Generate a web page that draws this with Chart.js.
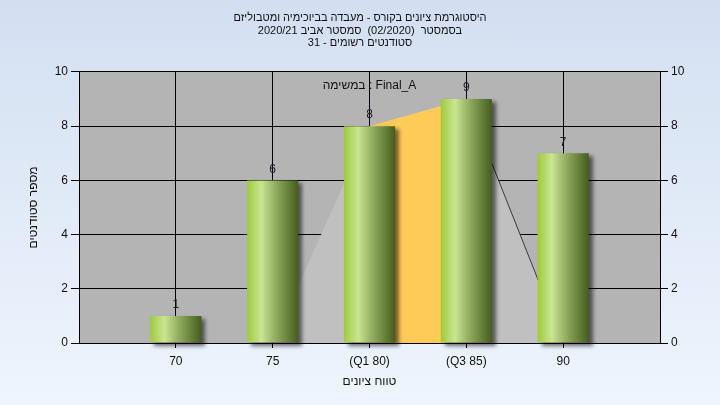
<!DOCTYPE html>
<html>
<head>
<meta charset="utf-8">
<script src="https://cdn.jsdelivr.net/npm/chart.js@4.4.0/dist/chart.umd.min.js"></script>
<style>
    html, body { margin: 0; padding: 0; }
    body {
        width: 720px;
        height: 405px;
        overflow: hidden;
        background: linear-gradient(to bottom, #d3dff1, #eef5fd);
    }
    #wrap { width: 720px; height: 405px; }
</style>
</head>
<body>
<div id="wrap"><canvas id="histChart" dir="rtl"></canvas></div>
<script>
// Grade histogram data
const scoreValues = [70, 75, 80, 85, 90];
const scoreLabels = ['70', '75', '(Q1 80)', '(Q3 85)', '90'];
const studentCounts = [1, 6, 8, 9, 7];
const curveCounts = [null, 0, 8, 9, 0];
const quartileCounts = [null, null, 8, 9, null];

const titleLines = [
    'היסטוגרמת ציונים בקורס - מעבדה בביוכימיה ומטבוליזם',
    'בסמסטר  (02/2020)  סמסטר אביב 2020/21',
    'סטודנטים רשומים - 31'
];
const taskLabel = 'במשימה : Final_A';
const yAxisTitle = 'מספר סטודנטים';
const xAxisTitle = 'טווח ציונים';

Chart.defaults.font.family = "'Liberation Sans', Arial, sans-serif";
Chart.defaults.font.size = 12;
Chart.defaults.color = '#111';

function toPoints(values) {
    return values
        .map((v, i) => ({ x: scoreValues[i], y: v }))
        .filter(p => p.y !== null);
}

function barGradient(context) {
    const chart = context.chart;
    if (!chart.chartArea) return '#a4cc44';
    const xs = chart.scales.x;
    const cx = xs.getPixelForValue(scoreValues[context.dataIndex]);
    const half = (xs.getPixelForValue(scoreValues[1]) - xs.getPixelForValue(scoreValues[0])) * 0.264;
    const g = chart.ctx.createLinearGradient(cx - half, 0, cx + half, 0);
    g.addColorStop(0, '#9fcb3c');
    g.addColorStop(0.28, '#c9e592');
    g.addColorStop(0.55, '#93ad62');
    g.addColorStop(0.8, '#66823a');
    g.addColorStop(1, '#475c1f');
    return g;
}

const plotBackground = {
    id: 'plotBackground',
    beforeDraw(chart) {
        const { ctx, chartArea: a } = chart;
        ctx.save();
        ctx.fillStyle = '#b4b4b4';
        ctx.fillRect(a.left, a.top, a.right - a.left, a.bottom - a.top);
        ctx.restore();
    }
};

const barShadow = {
    id: 'barShadow',
    beforeDatasetDraw(chart, args) {
        if (args.index !== 0) return;
        const ctx = chart.ctx;
        ctx.save();
        ctx.shadowColor = 'rgba(0, 0, 0, 0.55)';
        ctx.shadowBlur = 4;
        ctx.shadowOffsetX = 4;
        ctx.shadowOffsetY = 3;
    },
    afterDatasetDraw(chart, args) {
        if (args.index !== 0) return;
        chart.ctx.restore();
    }
};

const barValues = {
    id: 'barValues',
    afterDatasetsDraw(chart) {
        const ctx = chart.ctx;
        const meta = chart.getDatasetMeta(0);
        ctx.save();
        ctx.direction = 'ltr';
        ctx.font = "12px 'Liberation Sans', Arial, sans-serif";
        ctx.fillStyle = '#1b1b33';
        ctx.textAlign = 'center';
        ctx.textBaseline = 'bottom';
        meta.data.forEach((bar, i) => {
            ctx.fillText(String(studentCounts[i]), bar.x, bar.y - 5);
        });
        ctx.fillStyle = '#111';
        ctx.textBaseline = 'middle';
        const a = chart.chartArea;
        ctx.fillText(taskLabel, (a.left + a.right) / 2, a.top + 14);
        ctx.restore();
    }
};

new Chart(document.getElementById('histChart'), {
    type: 'bar',
    data: {
        datasets: [{
            label: 'Students',
            data: toPoints(studentCounts),
            backgroundColor: barGradient,
            borderWidth: 0,
            barPercentage: 0.66,
            categoryPercentage: 0.8,
            clip: false
        }, {
            type: 'line',
            label: 'IQR',
            data: toPoints(quartileCounts),
            fill: 'origin',
            backgroundColor: '#ffcb57',
            borderWidth: 0,
            pointRadius: 0,
            tension: 0
        }, {
            type: 'line',
            label: 'Curve',
            data: toPoints(curveCounts),
            fill: 'origin',
            backgroundColor: '#c0c0c0',
            borderColor: '#3a3a3a',
            borderWidth: 1,
            pointRadius: 0,
            tension: 0,
            segment: {
                borderColor: ctx => ctx.p1DataIndex === 3 ? '#3a3a3a' : 'rgba(0,0,0,0)'
            }
        }]
    },
    options: {
        responsive: true,
        maintainAspectRatio: false,
        animation: false,
        events: [],
        layout: { padding: 0 },
        plugins: {
            legend: { display: false },
            tooltip: { enabled: false },
            title: {
                display: true,
                text: titleLines,
                color: '#111',
                font: { size: 11, weight: 'normal', lineHeight: 1.12 },
                padding: { top: 12, bottom: 23 }
            }
        },
        scales: {
            x: {
                type: 'linear',
                min: 65,
                max: 95,
                offset: false,
                afterBuildTicks: scale => {
                    scale.ticks = scoreValues.map(v => ({ value: v }));
                },
                afterFit: scale => { scale.height = 62; },
                ticks: {
                    autoSkip: false,
                    maxRotation: 0,
                    padding: 6,
                    color: '#111',
                    callback: value => scoreLabels[scoreValues.indexOf(value)]
                },
                grid: { offset: false, color: '#000', lineWidth: 1, tickLength: 5 },
                border: { color: '#000', width: 1 },
                title: {
                    display: true,
                    text: xAxisTitle,
                    color: '#111',
                    font: { size: 12 },
                    padding: { top: 0, bottom: 16 }
                }
            },
            y: {
                position: 'left',
                min: 0,
                max: 10,
                afterFit: scale => { scale.width = 79; },
                ticks: { stepSize: 2, padding: 3, color: '#111' },
                grid: { color: '#000', lineWidth: 1, tickLength: 8 },
                border: { color: '#000', width: 1 },
                title: {
                    display: true,
                    text: yAxisTitle,
                    color: '#111',
                    font: { size: 12 },
                    padding: { top: 26, bottom: 0 }
                }
            },
            y2: {
                position: 'right',
                min: 0,
                max: 10,
                afterFit: scale => { scale.width = 60; },
                ticks: { stepSize: 2, padding: 3, color: '#111' },
                grid: { drawOnChartArea: false, color: '#000', lineWidth: 1, tickLength: 8 },
                border: { color: '#000', width: 1 }
            }
        }
    },
    plugins: [plotBackground, barShadow, barValues]
});
</script>
</body>
</html>
